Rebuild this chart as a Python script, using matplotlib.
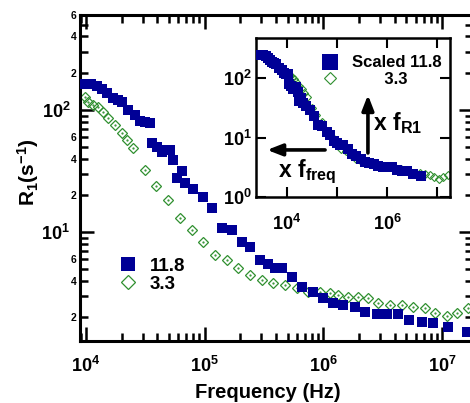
import numpy as np
import matplotlib.pyplot as plt
from matplotlib.ticker import LogLocator, FuncFormatter, NullFormatter, NullLocator

plt.rcParams['font.family'] = ['Liberation Sans', 'DejaVu Sans']
plt.rcParams['font.weight'] = 'bold'
plt.rcParams['mathtext.fontset'] = 'custom'
plt.rcParams['mathtext.rm'] = 'Liberation Sans:bold'
plt.rcParams['mathtext.it'] = 'Liberation Sans:bold'
plt.rcParams['mathtext.bf'] = 'Liberation Sans:bold'

# R1 dispersion, 11.8 (filled squares)
freq_118 = [9.8e3, 1.10e4, 1.24e4, 1.36e4, 1.50e4, 1.69e4, 1.86e4, 2.01e4, 2.26e4, 2.59e4,
            2.85e4, 3.14e4, 3.46e4, 3.60e4, 3.96e4, 4.37e4, 4.63e4, 5.1e4, 5.41e4, 5.85e4,
            6.44e4, 6.83e4, 7.97e4, 9.68e4, 1.15e5, 1.40e5, 1.70e5, 2.06e5, 2.41e5, 2.92e5,
            3.41e5, 3.91e5, 4.48e5, 5.44e5, 6.60e5, 8.17e5, 9.93e5, 1.21e6, 1.46e6, 1.85e6,
            2.24e6, 2.83e6, 3.44e6, 4.25e6, 5.26e6, 6.77e6, 8.38e6, 1.12e7, 1.62e7]
r1_118 = [163, 163, 157, 149, 138, 125, 121, 116, 100, 91,
          81, 80, 78, 54, 50, 45, 47, 47, 39, 27.7,
          31.6, 25.2, 22.5, 19.4, 15.7, 10.8, 10.4, 8.3, 7.5, 5.9,
          5.47, 5.07, 5.07, 4.28, 3.54, 3.22, 2.88, 2.62, 2.52, 2.43,
          2.21, 2.13, 2.13, 2.13, 1.90, 1.83, 1.80, 1.66, 1.51]

# R1 dispersion, 3.3 (open diamonds)
freq_33 = [9.8e3, 1.04e4, 1.15e4, 1.26e4, 1.39e4, 1.53e4, 1.75e4, 2.01e4, 2.21e4, 2.49e4,
           3.14e4, 3.89e4, 4.91e4, 6.19e4, 7.82e4, 9.68e4, 1.22e5, 1.54e5, 1.91e5, 2.41e5,
           3.04e5, 3.76e5, 4.74e5, 5.99e5, 7.42e5, 9.36e5, 1.14e6, 1.33e6, 1.61e6, 1.95e6,
           2.38e6, 2.88e6, 3.64e6, 4.59e6, 5.69e6, 7.18e6, 8.71e6, 1.10e7, 1.34e7, 1.65e7]
r1_33 = [128, 116, 110, 106, 96, 86, 75, 65, 57, 49,
         32, 23.8, 18.3, 13.0, 10.4, 8.3, 6.5, 5.9, 5.07, 4.45,
         4.05, 3.82, 3.68, 3.48, 3.22, 3.22, 3.16, 3.05, 2.93, 2.93,
         2.88, 2.62, 2.52, 2.52, 2.43, 2.38, 2.17, 2.05, 2.17, 2.38]

# scaling applied to the 11.8 curve in the inset
f_freq = 0.3
f_r1 = 1.5

blue = '#000096'
green = '#2f8f2f'


def pow10(v, pos):
    return r'$\mathrm{10^{%d}}$' % int(round(np.log10(v)))


def minor_lab(v, pos):
    m = int(round(v / 10 ** np.floor(np.log10(v) + 1e-9)))
    return str(m) if m in (2, 4, 6) else ''


def pow10_even(v, pos):
    e = int(round(np.log10(v)))
    return r'$\mathrm{10^{%d}}$' % e if e % 2 == 0 else ''


fig = plt.figure(figsize=(4.7, 4.03), dpi=100)
ax = fig.add_axes([80 / 470, 1 - 341 / 403, 393 / 470, 326 / 403])
ax.set_xscale('log')
ax.set_yscale('log')

ax.plot(freq_33, r1_33, 'D', ms=5.1, mfc='none', mec=green, mew=0.9, label='3.3', zorder=2)
ax.plot(freq_33, r1_33, '.', ms=1.2, color=green, zorder=2)
ax.plot(freq_118, r1_118, 's', ms=7, color=blue, mew=0, label='11.8', zorder=3)

ax.set_xlim(8.9e3, 1.82e7)
ax.set_ylim(1.28, 600)

ax.xaxis.set_major_locator(LogLocator(base=10, numticks=12))
ax.xaxis.set_minor_locator(LogLocator(base=10, subs=np.arange(2, 10), numticks=40))
ax.xaxis.set_major_formatter(FuncFormatter(pow10))
ax.xaxis.set_minor_formatter(NullFormatter())
ax.yaxis.set_major_locator(LogLocator(base=10, numticks=12))
ax.yaxis.set_minor_locator(LogLocator(base=10, subs=np.arange(2, 10), numticks=40))
ax.yaxis.set_major_formatter(FuncFormatter(pow10))
ax.yaxis.set_minor_formatter(FuncFormatter(minor_lab))

ax.tick_params(which='both', direction='in', top=True, right=True, width=1.8)
ax.tick_params(which='major', length=10)
ax.tick_params(which='minor', length=5.5)
ax.tick_params(axis='x', which='major', labelsize=13, pad=11)
ax.tick_params(axis='y', which='major', labelsize=13, pad=7)
ax.tick_params(axis='y', which='minor', labelsize=7.5, pad=2.5)
for s in ax.spines.values():
    s.set_linewidth(2.2)

h = ax.get_legend_handles_labels()[0]
ax.legend([h[1], h[0]], ['11.8', '3.3'], loc='upper left', bbox_to_anchor=(0.103, 0.256),
          frameon=False, fontsize=13.5, handlelength=0.8, handletextpad=0.77,
          labelspacing=0.06, borderpad=0, borderaxespad=0, markerscale=1.35)

fig.text(268 / 470, 1 - 397.5 / 403, 'Frequency (Hz)', ha='center', va='baseline',
         fontsize=14.5)
fig.text(28 / 470, 1 - 172 / 403, r'R$_\mathrm{1}$(s$^\mathrm{-1}$)', rotation=90,
         ha='center', va='center', fontsize=15)

# inset: scaled curves
axin = fig.add_axes([256 / 470, 1 - 197 / 403, 194 / 470, 159 / 403])
axin.set_xscale('log')
axin.set_yscale('log')
axin.plot(freq_33, r1_33, 'D', ms=4, mfc='none', mec=green, mew=0.8, label='       3.3',
          zorder=2)
axin.plot(np.array(freq_118) * f_freq, np.array(r1_118) * f_r1, 's', ms=7.5, color=blue,
          mew=0, label='Scaled 11.8', zorder=3)
axin.set_xlim(2.4e3, 1.82e7)
axin.set_ylim(1, 480)
axin.xaxis.set_major_locator(LogLocator(base=10, numticks=12))
axin.xaxis.set_minor_locator(NullLocator())
axin.xaxis.set_major_formatter(FuncFormatter(pow10_even))
axin.yaxis.set_major_locator(LogLocator(base=10, numticks=12))
axin.yaxis.set_minor_locator(NullLocator())
axin.yaxis.set_major_formatter(FuncFormatter(pow10))
axin.tick_params(which='major', direction='in', top=True, right=True, length=7, width=1.5)
axin.tick_params(axis='x', labelsize=13, pad=12)
axin.tick_params(axis='y', labelsize=13, pad=3)
for s in axin.spines.values():
    s.set_linewidth(1.8)

hi = axin.get_legend_handles_labels()[0]
axin.legend([hi[1], hi[0]], ['Scaled 11.8', '       3.3'], loc='upper left',
            bbox_to_anchor=(0.347, 0.89), frameon=False, fontsize=12,
            handlelength=0.8, handletextpad=0.92, labelspacing=0.1, borderpad=0,
            borderaxespad=0, markerscale=1.6)

arrow = dict(arrowstyle='-|>,head_width=0.35,head_length=0.9', lw=2.6, color='black',
             mutation_scale=10, shrinkA=0, shrinkB=0)
axin.annotate('', xy=(0.577, 0.642), xytext=(0.577, 0.277), xycoords='axes fraction',
              arrowprops=arrow)
axin.annotate('', xy=(0.057, 0.296), xytext=(0.356, 0.296), xycoords='axes fraction',
              arrowprops=arrow)
axin.text(0.603, 0.42, r'$\mathrm{x\ f_{R1}}$', transform=axin.transAxes, fontsize=16.5,
          ha='left', va='baseline')
axin.text(0.113, 0.126, r'$\mathrm{x\ f_{freq}}$', transform=axin.transAxes, fontsize=16.5,
          ha='left', va='baseline')

fig.savefig('out.png', dpi=100)
